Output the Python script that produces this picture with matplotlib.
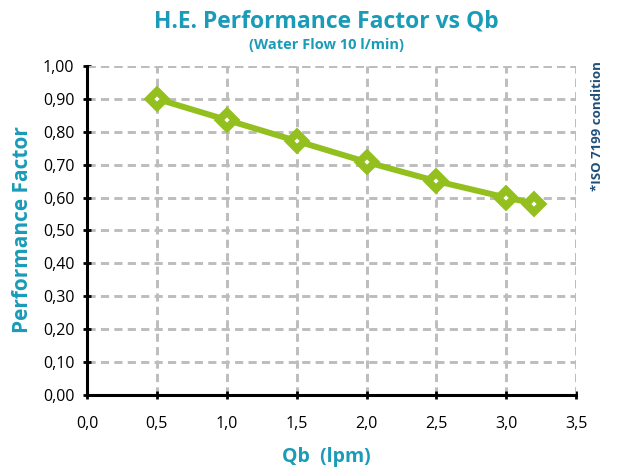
import matplotlib
matplotlib.use("Agg")
import matplotlib.pyplot as plt
from matplotlib.ticker import FuncFormatter

# data
qb = [0.5, 1.0, 1.5, 2.0, 2.5, 3.0, 3.2]
perf = [0.90, 0.836, 0.772, 0.708, 0.650, 0.600, 0.582]

teal = "#1a9bb8"
green = "#93c01f"
navy = "#1f4e7a"
gridc = "#bdbdbd"

plt.rcParams['font.family'] = ['Open Sans', 'DejaVu Sans']

fig = plt.figure(figsize=(6.2, 4.68), dpi=100)
ax = fig.add_axes([0.1403, 0.156, 0.789, 0.703])

ax.plot(qb, perf, color=green, lw=4.3, marker="D", ms=8.5, mfc="white",
        mec=green, mew=5.5, zorder=5, clip_on=False)

ax.set_xlim(0, 3.5)
ax.set_ylim(0, 1.0)
ax.set_xticks([0, 0.5, 1.0, 1.5, 2.0, 2.5, 3.0, 3.5])
ax.set_yticks([i / 10 for i in range(11)])
ax.xaxis.set_major_formatter(FuncFormatter(lambda v, p: ("%.1f" % v).replace(".", ",")))
ax.yaxis.set_major_formatter(FuncFormatter(lambda v, p: ("%.2f" % v).replace(".", ",")))

dash = (0, (2.8, 1.8))
ax.grid(True, color=gridc, ls=dash, lw=2.1)
ax.set_axisbelow(True)
for s in ["top", "right"]:
    ax.spines[s].set_visible(False)
for s in ["left", "bottom"]:
    ax.spines[s].set_linewidth(2.2)
    ax.spines[s].set_color("black")
    ax.spines[s].set_zorder(6)
# dashed frame lines on top and right
ax.axhline(1.0, color=gridc, ls=dash, lw=2.1, zorder=1)
ax.axvline(3.5, color=gridc, ls=dash, lw=2.1, zorder=1)

ax.tick_params(axis="both", direction="inout", length=6, width=2, labelsize=11.5, colors="black")
ax.tick_params(axis="x", pad=12)
ax.tick_params(axis="y", pad=6)

fig.text(0.527, 0.955, "H.E. Performance Factor vs Qb", ha="center", va="center",
         fontsize=16.5, fontweight="bold", color=teal)
fig.text(0.527, 0.903, "(Water Flow 10 l/min)", ha="center", va="center",
         fontsize=10.5, fontweight="bold", color=teal)
fig.text(0.527, 0.024, "Qb  (lpm)", ha="center", va="center",
         fontsize=14, fontweight="bold", color=teal)
fig.text(0.036, 0.51, "Performance Factor", ha="center", va="center", rotation=90,
         fontsize=15, fontweight="bold", color=teal)
fig.text(0.963, 0.731, "*ISO 7199 condition", ha="center", va="center", rotation=90,
         fontsize=9.5, fontweight="bold", color=navy)

plt.savefig("out.png", dpi=100)
